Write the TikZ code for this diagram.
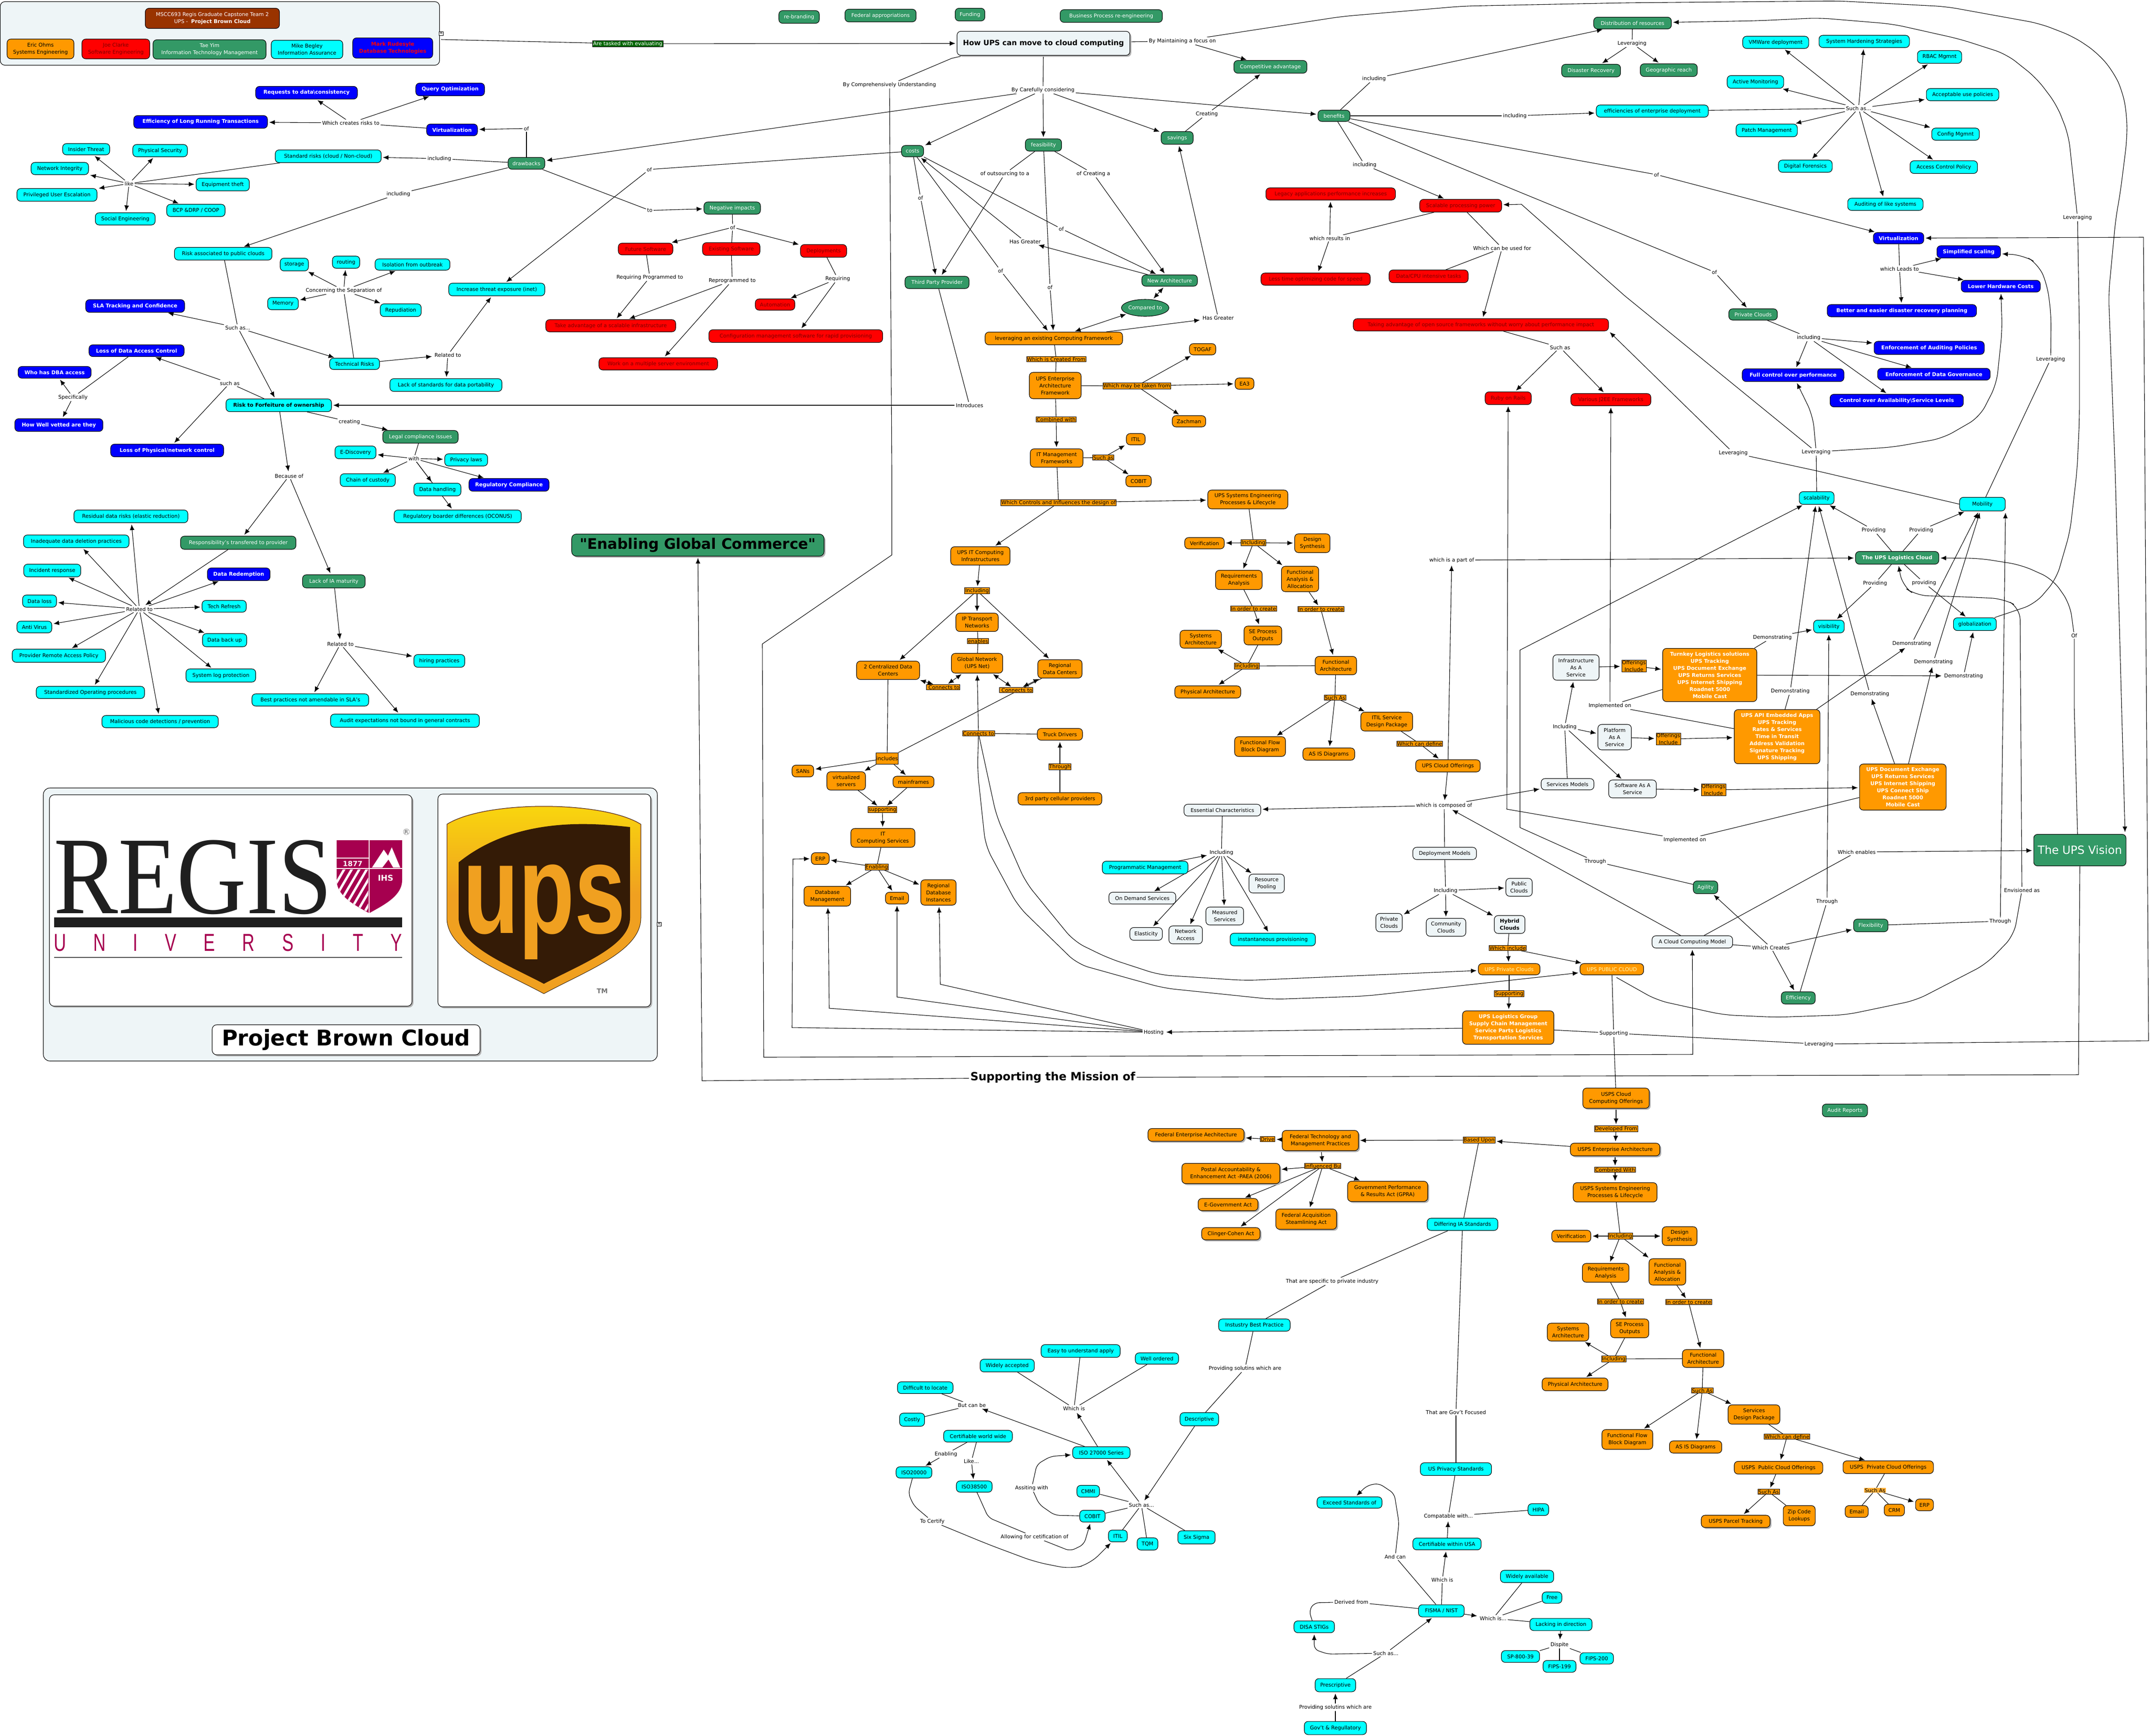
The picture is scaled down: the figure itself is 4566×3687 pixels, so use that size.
\documentclass[tikz,border=0pt]{standalone}
\usepackage{fontspec}
\setmainfont{DejaVu Sans}
\newfontfamily\rgf{Liberation Serif}[FakeStretch=0.87]
\newfontfamily\rgs{Liberation Sans}[FakeStretch=0.7]
\newfontfamily\rgu{Liberation Sans}[FakeStretch=0.72]
\newfontfamily\djp{DejaVu Sans}
\usetikzlibrary{arrows.meta,shadows,shapes.geometric}
\definecolor{cG}{HTML}{339966}
\definecolor{cC}{HTML}{00FFFF}
\definecolor{cB}{HTML}{0000FF}
\definecolor{cR}{HTML}{FF0000}
\definecolor{cO}{HTML}{FF9900}
\definecolor{cP}{HTML}{EEF5F7}
\definecolor{cT}{HTML}{800000}
\definecolor{cBr}{HTML}{993300}
\definecolor{cV}{HTML}{A6004F}
\definecolor{cUb}{HTML}{341B06}
\definecolor{cUg}{HTML}{F0A020}
\newcommand\fs{\fontsize{11}{15}\selectfont}
\tikzset{
 base/.style={draw=black,line width=1.1pt,rounded corners=8pt,align=center,inner sep=1pt,font=\fs},
 sG/.style={base,fill=cG,text=white},
 sC/.style={base,fill=cC,text=black},
 sB/.style={base,fill=cB,text=white,font=\fs\bfseries},
 sR/.style={base,fill=cR,text=cT},
 sO/.style={base,fill=cO,text=black},
 sW/.style={base,fill=cP,text=black},
 sY/.style={base,fill=cO,text=white,font=\fs\bfseries},
 sL/.style={base,fill=cO,text=yellow!30},
 bb/.style={font=\fs\bfseries},
 shd/.style={drop shadow={shadow xshift=3pt,shadow yshift=-3pt,fill=black!30,opacity=1}},
 lb/.style={fill=white,inner sep=2.5pt,font=\fs,align=center},
 ob/.style={fill=cO,draw=black,line width=.8pt,inner sep=1pt,font=\fs,align=center,text=black},
 ln/.style={draw=black,line width=1.1pt},
 ar/.style={ln,-{Latex[length=12pt,width=10pt]},shorten >=3pt},
 db/.style={ln,{Latex[length=12pt,width=10pt]}-{Latex[length=12pt,width=10pt]},shorten >=3pt,shorten <=3pt},
 cv/.style={rounded corners=25pt},
 cw/.style={rounded corners=10pt},
}
\pgfdeclarelayer{bg}
\pgfsetlayers{bg,main}
\newcommand\nd[7]{\node[#1,minimum width=#5pt,minimum height=#6pt] (#2) at (#3,#4) {#7};}
\newcommand\lbn[4]{\node[lb] (#1) at (#2,#3) {#4};}
\newcommand\olb[4]{\node[ob] (#1) at (#2,#3) {#4};}
\newcommand\LK[2]{\draw[ln] (#1) -- (#2);}
\newcommand\AR[2]{\draw[ar] (#1) -- (#2);}
\newcommand\LKS[2]{\foreach \tg in {#2} {\draw[ln] (#1) -- (\tg);}}
\newcommand\ARS[2]{\foreach \tg in {#2} {\draw[ar] (#1) -- (\tg);}}
\begin{document}
\begin{tikzpicture}[x=1pt,y=-1pt]
\useasboundingbox (0,0) rectangle (4566,3687);
% ---- panels
\begin{pgfonlayer}{bg}
\fill[white] (0,0) rectangle (4566,3687);
\node[draw=black,line width=1.1pt,fill=cP,rounded corners=10pt,minimum width=933pt,minimum height=135pt,inner sep=0pt] (toppanel) at (467,71) {};
\node[draw=black,line width=1.1pt,fill=cP,rounded corners=14pt,minimum width=1304pt,minimum height=580pt,inner sep=0pt] (botpanel) at (744,1964) {};
\node[draw=black,line width=1.1pt,fill=white,rounded corners=10pt,minimum width=770pt,minimum height=449pt,inner sep=0pt,shd] (regisbox) at (490,1913) {};
\node[draw=black,line width=1.1pt,fill=white,rounded corners=10pt,minimum width=452pt,minimum height=452pt,inner sep=0pt,shd] (upsbox) at (1156,1913) {};
\end{pgfonlayer}
% ---- logos
\node[inner sep=0pt,anchor=base,font=\fontsize{235}{235}\selectfont\rgf,text=black!88] (regisword) at (410,1940) {REGIS};
\fill[cV] (715,1785) -- (854,1785) -- (854,1870) .. controls (854,1905) and (810,1925) .. (784,1940) .. controls (758,1925) and (715,1905) .. (715,1870) -- cycle;
\draw[white,line width=1.5pt] (784,1785) -- (784,1940) (715,1845) -- (854,1845) (715,1823) -- (784,1823);
\fill[white] (790,1843) -- (815,1805) -- (824,1818) -- (832,1800) -- (850,1843) -- (835,1843) -- (825,1826) -- (812,1843) -- cycle;
\begin{scope}
\clip (715,1847) -- (782,1847) -- (782,1938) .. controls (758,1925) and (715,1905) .. (715,1870) -- cycle;
\foreach \q in {0,16,...,112} {\draw[white,line width=5pt] (700+\q,1900) -- (735+\q,1840);\draw[white,line width=5pt] (665+\q,1960) -- (700+\q,1900);}
\end{scope}
\node[text=white,font=\fontsize{15}{15}\selectfont\bfseries,inner sep=0pt] (rg1877) at (749,1835) {1877};
\node[text=white,font=\fontsize{17}{17}\selectfont\bfseries,inner sep=0pt] (rgihs) at (819,1865) {IHS};
\fill[black!88] (115,1949) rectangle (854,1970);
\node[inner sep=0pt,anchor=base,text=cV,font=\fontsize{52}{52}\selectfont\rgs] (rguniv) at (484,2020) {\makebox[739pt]{U\hfill N\hfill I\hfill V\hfill E\hfill R\hfill S\hfill I\hfill T\hfill Y}};
\draw[black!70,line width=2pt] (115,2034) -- (854,2034);
\node[draw=black!70,circle,inner sep=.5pt,font=\fontsize{11}{11}\selectfont,text=black!70] (rgreg) at (863,1767) {R};
\fill[cUg,draw=black!70!brown,line width=1pt] (949,1751) .. controls (1030,1700) and (1280,1700) .. (1361,1751) -- (1361,1950) .. controls (1361,2020) and (1250,2060) .. (1155,2111) .. controls (1060,2060) and (949,2020) .. (949,1950) -- cycle;
\shade[top color=yellow!60!cUg,bottom color=cUg] (951,1752) .. controls (1030,1702) and (1280,1702) .. (1359,1752) -- (1359,1900) -- (951,1900) -- cycle;
\fill[cUb] (1338,1757) .. controls (1270,1750) and (1100,1730) .. (974,1832) -- (974,1950) .. controls (974,2010) and (1080,2050) .. (1155,2090) .. controls (1230,2050) and (1338,2010) .. (1338,1950) -- cycle;
\node[inner sep=0pt,anchor=base,font=\fontsize{270}{270}\selectfont\rgu\bfseries,text=cUg] (upsword) at (1156,1982) {ups};
\node[inner sep=0pt,font=\fontsize{14}{14}\selectfont\bfseries,text=black!55] (upstm) at (1279,2105) {TM};
\node[draw=black,fill=white,inner sep=1pt,font=\fontsize{11}{11}\selectfont] (ic1) at (937,71) {«};
\node[draw=black,fill=white,inner sep=1pt,font=\fontsize{11}{11}\selectfont] (ic2) at (1400,1963) {«};
\node[base,fill=white,rounded corners=10pt,minimum width=569pt,minimum height=64pt,font=\fontsize{46}{54}\selectfont\bfseries,shd] (pbc) at (735,2209) {Project Brown Cloud};
\node[base,fill=cG,rounded corners=10pt,minimum width=536pt,minimum height=47pt,font=\fontsize{31}{40}\selectfont\djp\bfseries,shd] (egc) at (1482,1158) {"Enabling Global Commerce"};
\node[lb,font=\fontsize{24}{28}\selectfont\bfseries] (smo) at (2236,2289) {Supporting the Mission of};
% ---- team
\nd{base,fill=cBr,text=white}{ttl}{451}{39}{285}{43}{MSCC693 Regis Graduate Capstone Team 2\\UPS -\ \ \textbf{Project Brown Cloud}}
\nd{sO}{eric}{86}{104}{142}{42}{Eric Ohms\\Systems Engineering}
\nd{sR}{joe}{246}{104}{144}{42}{Joe Clarke\\Software Engineering}
\nd{sG}{tae}{445}{105}{240}{41}{Tae Yim\\Information Technology Management}
\nd{sC}{mike}{652}{105}{152}{39}{Mike Begley\\Information Assurance}
\nd{sB,text=red}{mark}{834}{102}{170}{43}{Mark Rudesyle\\Database Technologies}
% ---- top-left group
\nd{sB}{req}{651}{197}{216}{27}{Requests to data\textbackslash consistency}
\nd{sB}{qop}{956}{190}{146}{27}{Query Optimization}
\nd{sB}{eff}{426}{259}{284}{27}{Efficiency of Long Running Transactions}
\lbn{wcr}{745}{261}{Which creates risks to}
\nd{sB}{virta}{960}{276}{108}{25}{Virtualization}
\lbn{ofa}{1118}{273}{of}
\nd{sG}{draw}{1118}{347}{78}{25}{drawbacks}
\nd{sC}{stdr}{697}{332}{225}{27}{Standard risks (cloud / Non-cloud)}
\lbn{inca}{933}{337}{including}
\lbn{like}{274}{390}{like}
\nd{sC}{insd}{183}{317}{100}{24}{Insider Threat}
\nd{sC}{phys}{340}{320}{116}{26}{Physical Security}
\nd{sC}{neti}{127}{358}{122}{26}{Network Integrity}
\nd{sC}{equi}{473}{392}{113}{27}{Equipment theft}
\nd{sC}{priv}{121}{414}{170}{27}{Privileged User Escalation}
\nd{sC}{bcp}{416}{447}{124}{26}{BCP \&DRP / COOP}
\nd{sC}{soc}{266}{465}{127}{26}{Social Engineering}
\lbn{incb}{846}{412}{including}
\nd{sC}{rpub}{474}{539}{207}{27}{Risk associated to public clouds}
\nd{sC}{stor}{625}{562}{60}{27}{storage}
\nd{sC}{rout}{735}{557}{58}{26}{routing}
\nd{sC}{isol}{876}{562}{159}{24}{Isolation from outbreak}
\lbn{conc}{730}{617}{Concerning the Separation of}
\nd{sC}{memo}{601}{645}{65}{26}{Memory}
\nd{sC}{repu}{851}{659}{87}{27}{Repudiation}
\nd{sB}{sla}{287}{650}{210}{27}{SLA Tracking and Confidence}
\lbn{sucha}{505}{696}{Such as...}
\nd{sC}{incr}{1055}{615}{204}{27}{Increase threat exposure (inet)}
\nd{sC}{tech}{753}{773}{106}{24}{Technical Risks}
\lbn{rela}{951}{754}{Related to}
\nd{sC}{lack}{947}{818}{238}{27}{Lack of standards for data portability}
\nd{sB}{ldac}{290}{745}{202}{25}{Loss of Data Access Control}
\nd{sB}{dba}{116}{791}{155}{25}{Who has DBA access}
\lbn{suchb}{488}{814}{such as}
\lbn{spec}{155}{844}{Specifically}
\nd{sC,bb}{rfor}{592}{861}{224}{27}{Risk to Forfeiture of ownership}
\nd{sB}{vett}{125}{903}{187}{27}{How Well vetted are they}
\nd{sB}{lphy}{355}{957}{240}{27}{Loss of Physical/network control}
\lbn{crea}{742}{896}{creating}
\nd{sG}{lega}{893}{928}{160}{27}{Legal compliance issues}
\nd{sC}{edis}{755}{961}{87}{27}{E-Discovery}
\lbn{with}{879}{974}{with}
\nd{sC}{prla}{990}{977}{91}{26}{Privacy laws}
\lbn{beca}{614}{1011}{Because of}
\nd{sC}{chai}{781}{1020}{117}{27}{Chain of custody}
\nd{sC}{dhan}{929}{1040}{100}{27}{Data handling}
\nd{sB}{regc}{1081}{1030}{170}{27}{Regulatory Compliance}
\nd{sC}{regb}{972}{1097}{270}{27}{Regulatory boarder differences (OCONUS)}
\nd{sC}{resi}{278}{1097}{242}{27}{Residual data risks (elastic reduction)}
\nd{sC}{inad}{162}{1150}{224}{27}{Inadequate data deletion practices}
\nd{sG}{resp}{506}{1153}{245}{28}{Responsibility's transfered to provider}
\nd{sC}{incd}{111}{1212}{121}{27}{Incident response}
\nd{sB}{dred}{507}{1220}{133}{27}{Data Redemption}
\nd{sG}{liam}{709}{1235}{133}{28}{Lack of IA maturity}
\nd{sC}{dlos}{84}{1277}{72}{26}{Data loss}
\lbn{relb}{296}{1294}{Related to}
\nd{sC}{tref}{476}{1288}{94}{25}{Tech Refresh}
\nd{sC}{anti}{73}{1332}{74}{25}{Anti Virus}
\nd{sC}{dbak}{477}{1360}{94}{28}{Data back up}
\nd{sC}{prov}{125}{1393}{198}{28}{Provider Remote Access Policy}
\lbn{relc}{723}{1368}{Related to}
\nd{sC}{hire}{933}{1404}{108}{27}{hiring practices}
\nd{sC}{slog}{469}{1435}{148}{28}{System log protection}
\nd{sC}{stdo}{192}{1471}{230}{26}{Standardized Operating procedures}
\nd{sC}{best}{659}{1487}{248}{26}{Best practices not amendable in SLA's}
\nd{sC}{audi}{860}{1531}{316}{28}{Audit expectations not bound in general contracts}
\nd{sC}{mali}{340}{1533}{247}{26}{Malicious code detections / prevention}
% ---- top middle
\nd{sG}{rebr}{1697}{36}{86}{27}{re-branding}
\nd{sG}{feda}{1870}{33}{151}{27}{Federal appropriations}
\nd{sG}{fund}{2060}{31}{63}{27}{Funding}
\nd{sG}{bpre}{2360}{34}{217}{27}{Business Process re-engineering}
\node[base,fill=cP,minimum width=367pt,minimum height=51pt,font=\fontsize{15.5}{22}\selectfont\bfseries,shd] (how) at (2216,92) {How UPS can move to cloud computing};
\node[draw=black,line width=.8pt,fill=green!40!black,text=white,inner sep=1.5pt,font=\fs] (task) at (1333,93) {Are tasked with evaluating};
\lbn{bycom}{1889}{180}{By Comprehensively Understanding}
\lbn{bycar}{2215}{191}{By Carefully considering}
\nd{sG}{cost}{1938}{321}{47}{24}{costs}
\nd{sG}{feas}{2216}{308}{77}{26}{feasibility}
\lbn{ofb}{1379}{360}{of}
\lbn{tob}{1380}{447}{to}
\nd{sG}{nega}{1555}{442}{120}{26}{Negative impacts}
\lbn{ofc}{1556}{483}{of}
\nd{sR}{futs}{1371}{529}{116}{25}{Future Software}
\nd{sR}{exis}{1553}{529}{122}{27}{Existing Software}
\nd{sR}{depl}{1749}{533}{98}{27}{Deployments}
\lbn{oout}{2134}{369}{of outsourcing to a}
\lbn{ocre}{2322}{369}{of Creating a}
\lbn{ofd}{1955}{420}{of}
\lbn{ofe}{2254}{486}{of}
\lbn{hga}{2177}{513}{Has Greater}
\lbn{off}{2125}{575}{of}
\lbn{ofg}{2230}{610}{of}
\lbn{rqpr}{1380}{589}{Requiring Programmed to}
\lbn{repr}{1555}{596}{Reprogrammed to}
\lbn{rqng}{1779}{592}{Requiring}
\nd{sG}{tpp}{1990}{600}{136}{26}{Third Party Provider}
\nd{sR}{auto}{1646}{647}{84}{24}{Automation}
\nd{sR}{take}{1297}{692}{276}{26}{Take advantage of a scalable infrastructure}
\nd{sR}{conf}{1690}{714}{369}{27}{Configuration management software for rapid provisioning}
\nd{sR}{work}{1398}{773}{252}{26}{Work on a multiple server environment}
\nd{sO}{levf}{2238}{719}{292}{27}{leveraging an existing Computing Framework}
\olb{wicf}{2243}{763}{Which is Created From}
\nd{sO}{upsea}{2241}{819}{110}{56}{UPS Enterprise\\Architecture\\Framework}
\olb{comb}{2243}{891}{Combined with}
\nd{sO}{itmg}{2244}{973}{112}{39}{IT Management\\Frameworks}
\lbn{intr}{2059}{861}{Introduces}
\lbn{bym}{2511}{87}{By Maintaining a focus on}
\nd{sG}{comp}{2698}{142}{155}{27}{Competitive advantage}
\nd{sG}{bene}{2833}{246}{68}{24}{benefits}
\lbn{crtg}{2563}{242}{Creating}
\nd{sG}{savi}{2500}{293}{68}{27}{savings}
\lbn{incc}{2918}{167}{including}
\lbn{incd2}{3217}{246}{including}
\lbn{ince}{2898}{350}{including}
\nd{sG}{dist}{3467}{49}{165}{25}{Distribution of resources}
\nd{sG}{disa}{3379}{150}{125}{27}{Disaster Recovery}
\lbn{levd}{3466}{92}{Leveraging}
\nd{sG}{geog}{3544}{149}{121}{27}{Geographic reach}
\nd{sC}{effe}{3509}{236}{238}{26}{efficiencies of enterprise deployment}
\nd{sR}{lega2}{2826}{412}{275}{26}{Legacy applications performance increases}
\nd{sR}{scal}{3102}{437}{174}{27}{Scalable processing power}
\lbn{wri}{2824}{506}{which results in}
\nd{sR}{lest}{2794}{593}{232}{26}{Less time optimizing code for speed}
\nd{sR}{dcpu}{3034}{587}{168}{27}{Data/CPU intensive tasks}
\lbn{wcb}{3190}{527}{Which can be used for}
\nd{sG}{newa}{2484}{596}{118}{24}{New Architecture}
\node[draw=black,line width=1.1pt,fill=cG,text=white,ellipse,minimum width=86pt,minimum height=36pt,inner sep=0pt,font=\fs] (cmpd) at (2432,654) {Compared to};
\lbn{hgb}{2587}{675}{Has Greater}
\nd{sO}{toga}{2554}{742}{56}{24}{TOGAF}
\nd{sR}{tkad}{3145}{690}{542}{26}{Taking advantage of open source frameworks without worry about performance impact}
\olb{wmay}{2414}{820}{Which may be taken from}
\nd{sO}{ea3}{2643}{815}{40}{24}{EA3}
\nd{sO}{zach}{2525}{895}{71}{24}{Zachman}
\lbn{suchc}{3313}{738}{Such as}
\nd{sR}{ruby}{3203}{846}{98}{27}{Ruby on Rails}
\nd{sR}{j2ee}{3421}{849}{170}{26}{Various J2EE Frameworks}
\nd{sO}{itila}{2412}{933}{40}{24}{ITIL}
\olb{suchd}{2343}{972}{Such as}
\nd{sO}{cobia}{2418}{1022}{54}{24}{COBIT}
% ---- top right
\nd{sC}{vmw}{3771}{90}{140}{26}{VMWare deployment}
\nd{sC}{hard}{3959}{88}{192}{26}{System Hardening Strategies}
\nd{sC}{rbac}{4119}{121}{94}{27}{RBAC Mgmnt}
\nd{sC}{actm}{3728}{174}{120}{27}{Active Monitoring}
\lbn{suche}{3947}{230}{Such as...}
\nd{sC}{accu}{4168}{201}{154}{26}{Acceptable use policies}
\nd{sC}{patc}{3752}{277}{130}{27}{Patch Management}
\nd{sC}{cfgm}{4153}{285}{101}{26}{Config Mgmnt}
\nd{sC}{digf}{3834}{353}{114}{26}{Digital Forensics}
\nd{sC}{accp}{4128}{355}{143}{27}{Access Control Policy}
\nd{sC}{audl}{4004}{434}{160}{26}{Auditing of like systems}
\lbn{ofh}{3518}{371}{of}
\nd{sB}{virtb}{4032}{506}{107}{24}{Virtualization}
\nd{sB}{simp}{4181}{535}{135}{26}{Simplified scaling}
\lbn{wlt}{4034}{571}{which Leads to}
\nd{sB}{lowh}{4249}{608}{168}{25}{Lower Hardware Costs}
\lbn{ofi}{3641}{578}{of}
\nd{sB}{bett}{4039}{660}{317}{26}{Better and easier disaster recovery planning}
\nd{sG}{pric}{3723}{668}{103}{24}{Private Clouds}
\lbn{incf}{3841}{717}{including}
\nd{sB}{enfa}{4097}{739}{234}{28}{Enforcement of Auditing Policies}
\nd{sB}{enfd}{4107}{795}{239}{25}{Enforcement of Data Governance}
\nd{sB}{fullc}{3808}{797}{216}{27}{Full control over performance}
\nd{sB}{ctrl}{4028}{851}{283}{27}{Control over Availability\textbackslash Service Levels}
\lbn{leva}{4412}{462}{Leveraging}
\lbn{levb}{4355}{763}{Leveraging}
\lbn{levc}{3857}{960}{Leveraging}
\lbn{levf2}{3681}{962}{Leveraging}
% ---- centre
\olb{wctl}{2248}{1068}{Which Controls and Influences the design of}
\nd{sO}{upsse}{2650}{1061}{170}{40}{UPS Systems Engineering\\Processes \& Lifecycle}
\nd{sO}{upsit}{2082}{1181}{126}{39}{UPS IT Computing\\Infrastructures}
\olb{incg}{2075}{1255}{Including}
\nd{sO}{iptr}{2075}{1322}{90}{39}{IP Transport\\Networks}
\olb{enab}{2077}{1362}{enables}
\nd{sO}{gnet}{2075}{1409}{109}{42}{Global Network\\(UPS Net)}
\nd{sO}{cdc}{1886}{1424}{134}{39}{2 Centralized Data\\Centers}
\nd{sO}{rdc}{2251}{1421}{94}{39}{Regional\\Data Centers}
\olb{cona}{2003}{1460}{\ Connects to}
\olb{conb}{2158}{1466}{\ Connects to}
\olb{conc2}{2078}{1558}{Connects to}
\nd{sO}{truc}{2251}{1560}{96}{25}{Truck Drivers}
\olb{thra}{2251}{1629}{Through}
\nd{sO}{thrd}{2251}{1697}{178}{26}{3rd party cellular providers}
\node[ob,minimum height=24pt] (incl) at (1884,1611) {includes};
\nd{sO}{sans}{1705}{1638}{46}{25}{SANs}
\nd{sO}{vser}{1797}{1659}{82}{39}{virtualized\\servers}
\nd{sO}{main}{1940}{1661}{87}{24}{mainframes}
\olb{supp}{1874}{1720}{supporting}
\nd{sO}{itcs}{1875}{1780}{136}{40}{IT\\Computing Services}
\olb{enbl}{1862}{1842}{Enabling}
\nd{sO}{erpa}{1742}{1824}{38}{25}{ERP}
\nd{sO}{dbm}{1757}{1904}{99}{42}{Database\\Management}
\nd{sO}{emaa}{1905}{1908}{49}{25}{Email}
\nd{sO}{rdbi}{1993}{1896}{75}{54}{Regional\\Database\\Instances}
\olb{inch}{2662}{1153}{Including}
\nd{sO}{vera}{2558}{1154}{84}{24}{Verification}
\nd{sO}{desa}{2787}{1154}{75}{40}{Design\\Synthesis}
\nd{sO}{reqa}{2631}{1232}{99}{41}{Requirements\\Analysis}
\nd{sO}{funa}{2761}{1230}{79}{54}{Functional\\Analysis \&\\Allocation}
\olb{iocl}{2662}{1293}{In order to create}
\olb{iocr}{2805}{1294}{In order to create}
\nd{sO}{sepa}{2682}{1350}{80}{40}{SE Process\\Outputs}
\nd{sO}{sysa}{2550}{1358}{88}{38}{Systems\\Architecture}
\olb{inci}{2648}{1415}{Including}
\nd{sO}{fara}{2837}{1414}{88}{39}{Functional\\Architecture}
\nd{sO}{phya}{2565}{1470}{140}{26}{Physical Architecture}
\olb{suas}{2835}{1482}{Such As}
\nd{sO}{itsd}{2945}{1533}{110}{40}{ITIL Service\\Design Package}
\nd{sO}{ffbd}{2676}{1586}{108}{42}{Functional Flow\\Block Diagram}
\nd{sO}{asis}{2822}{1602}{110}{26}{AS IS Diagrams}
\olb{wcd}{3015}{1580}{Which can define}
\nd{sO}{ucof}{3075}{1627}{137}{26}{UPS Cloud Offerings}
\lbn{wpo}{3083}{1190}{which is a part of}
\lbn{wco}{3067}{1711}{which is composed of}
\nd{sW}{esse}{2596}{1721}{163}{25}{Essential Characteristics}
\nd{sW}{serv}{3329}{1666}{112}{24}{Services Models}
\nd{sW}{iaas}{3347}{1418}{98}{54}{Infrastructure\\As A\\Service}
\olb{ofra}{3470}{1415}{Offerings\\Include}
\lbn{incj}{3323}{1544}{Including}
\lbn{impa}{3419}{1499}{Implemented on}
\nd{sW}{paas}{3429}{1566}{71}{54}{Platform\\As A\\Service}
\nd{sW}{saas}{3467}{1676}{101}{38}{Software As A\\Service}
\nd{sW}{depm}{3068}{1813}{135}{26}{Deployment Models}
\lbn{inck}{2594}{1811}{Including}
\nd{sC}{prog}{2432}{1843}{182}{27}{Programmatic Management}
\nd{sW}{rpoo}{2690}{1877}{75}{40}{Resource\\Pooling}
\nd{sW}{onde}{2426}{1908}{142}{25}{On Demand Services}
\nd{sW}{meas}{2601}{1946}{80}{38}{Measured\\Services}
\nd{sW}{elas}{2434}{1984}{69}{27}{Elasticity}
\nd{sW}{neta}{2518}{1986}{71}{38}{Network\\Access}
\nd{sC}{inst}{2703}{1996}{181}{27}{instantaneous provisioning}
\lbn{incm}{3070}{1892}{Including}
\nd{sW}{pubc}{3226}{1885}{56}{38}{Public\\Clouds}
\nd{sW}{prvc}{2950}{1960}{56}{39}{Private\\Clouds}
\nd{sW}{comc}{3071}{1970}{84}{38}{Community\\Clouds}
\nd{sW,bb}{hybc}{3206}{1964}{65}{38}{Hybrid\\Clouds}
\olb{winc}{3202}{2014}{Which include}
\nd{sL}{upvc}{3205}{2059}{131}{24}{UPS Private Clouds}
\nd{sL}{upbc}{3423}{2059}{135}{24}{UPS PUBLIC CLOUD}
% ---- right middle
\nd{sC}{scab}{3858}{1058}{74}{27}{scalability}
\nd{sC}{mobi}{4210}{1071}{97}{29}{Mobility}
\lbn{pra}{3979}{1126}{Providing}
\lbn{prb}{4080}{1126}{Providing}
\nd{sG,bb}{ulog}{4029}{1185}{177}{27}{The UPS Logistics Cloud}
\lbn{prc}{3982}{1239}{Providing}
\lbn{prd}{4086}{1238}{providing}
\nd{sC}{visi}{3884}{1331}{65}{27}{visibility}
\nd{sC}{glob}{4194}{1326}{91}{27}{globalization}
\lbn{ofv}{4405}{1350}{Of}
\lbn{dma}{3764}{1354}{Demonstrating}
\lbn{dmb}{4060}{1367}{Demonstrating}
\lbn{dmc}{4106}{1406}{Demonstrating}
\lbn{dmd}{4170}{1436}{Demonstrating}
\lbn{dme}{3802}{1468}{Demonstrating}
\lbn{dmf}{3971}{1474}{Demonstrating}
\nd{sY}{turn}{3631}{1434}{200}{113}{Turnkey Logistics solutions\\UPS Tracking\\UPS Document Exchange\\UPS Returns Services\\UPS Internet Shipping\\Roadnet 5000\\Mobile Cast}
\nd{sY}{uapi}{3774}{1565}{182}{115}{UPS API Embedded Apps\\UPS Tracking\\Rates \& Services\\Time in Transit\\Address Validation\\Signature Tracking\\UPS Shipping}
\nd{sY}{udoc}{4041}{1672}{184}{98}{UPS Document Exchange\\UPS Returns Services\\UPS Internet Shipping\\UPS Connect Ship\\Roadnet 5000\\Mobile Cast}
\olb{ofrb}{3543}{1570}{Offerings\\Include}
\olb{ofrc}{3639}{1678}{Offerings\\Include}
\lbn{impb}{3578}{1784}{Implemented on}
\lbn{wen}{3943}{1810}{Which enables}
\node[base,fill=cG,text=white,rounded corners=8pt,minimum width=196pt,minimum height=67pt,font=\fontsize{24}{28}\selectfont] (vis) at (4417,1806) {The UPS Vision};
\nd{sG}{agil}{3622}{1885}{52}{27}{Agility}
\lbn{thrb}{3880}{1915}{Through}
\lbn{envi}{4294}{1891}{Envisioned as}
\nd{sG}{flex}{3973}{1966}{73}{27}{Flexibility}
\lbn{thrc}{4248}{1957}{Through}
\nd{sW}{ccm}{3594}{2001}{171}{26}{A Cloud Computing Model}
\lbn{wcre}{3761}{2013}{Which Creates}
\nd{sG}{effi}{3819}{2120}{72}{26}{Efficiency}
\lbn{thrd2}{3388}{1830}{Through}
\lbn{supa}{3427}{2195}{Supporting}
% ---- lower
\olb{supb}{3205}{2111}{Supporting}
\nd{sY}{ulgr}{3203}{2183}{194}{71}{UPS Logistics Group\\Supply Chain Management\\Service Parts Logistics\\Transportation Services}
\lbn{levg}{3863}{2218}{Leveraging}
\lbn{host}{2450}{2193}{Hosting}
\nd{sO,shd}{uclo}{3432}{2333}{141}{43}{USPS Cloud\\Computing Offerings}
\nd{sG}{audr}{3918}{2359}{96}{27}{Audit Reports}
\olb{devf}{3432}{2398}{Developed From}
\olb{basu}{3141}{2422}{Based Upon}
\nd{sO,shd}{usea}{3430}{2442}{190}{27}{USPS Enterprise Architecture}
\olb{cowi}{3430}{2485}{Combined With}
\nd{sO}{usse}{3430}{2533}{178}{41}{USPS Systems Engineering\\Processes \& Lifecycle}
\nd{sC}{difi}{3106}{2601}{150}{26}{Differing IA Standards}
\olb{incn}{3441}{2626}{Including}
\nd{sO}{verb}{3337}{2626}{83}{25}{Verification}
\nd{sO}{desb}{3567}{2626}{74}{40}{Design\\Synthesis}
\nd{sO}{reqb}{3410}{2704}{99}{40}{Requirements\\Analysis}
\nd{sO}{funb}{3541}{2702}{78}{56}{Functional\\Analysis \&\\Allocation}
\olb{iocm}{3441}{2765}{In order to create}
\olb{iocn}{3586}{2766}{In order to create}
\nd{sO}{sepb}{3461}{2822}{81}{40}{SE Process\\Outputs}
\nd{sO}{sysb}{3330}{2830}{88}{38}{Systems\\Architecture}
\olb{inco}{3427}{2887}{Including}
\nd{sO}{farb}{3617}{2886}{88}{38}{Functional\\Architecture}
\nd{sO}{phyb}{3345}{2941}{140}{27}{Physical Architecture}
\olb{suat}{3615}{2954}{Such As}
\nd{sO}{sdpk}{3725}{3005}{110}{41}{Services\\Design Package}
\nd{sO}{ffbe}{3456}{3058}{108}{42}{Functional Flow\\Block Diagram}
\nd{sO}{asit}{3601}{3074}{111}{26}{AS IS Diagrams}
\olb{wce}{3795}{3052}{Which can define}
\nd{sO}{upuo}{3777}{3118}{188}{27}{USPS\ \ Public Cloud Offerings}
\nd{sO}{upro}{4010}{3117}{192}{27}{USPS\ \ Private Cloud Offerings}
\olb{suau}{3756}{3169}{Such As}
\node[fill=cO!80,inner sep=1pt,font=\fs] (suav) at (3982,3166) {Such As};
\nd{sO,shd}{parc}{3686}{3232}{146}{26}{USPS Parcel Tracking}
\nd{sO}{zipc}{3821}{3220}{68}{43}{Zip Code\\Lookups}
\nd{sO}{emab}{3943}{3211}{49}{25}{Email}
\nd{sO}{crmb}{4023}{3208}{43}{25}{CRM}
\nd{sO}{erpb}{4087}{3197}{38}{25}{ERP}
\nd{sC}{hipa}{3267}{3207}{44}{25}{HIPA}
\nd{sC}{wava}{3243}{3349}{113}{26}{Widely available}
\nd{sC}{free}{3296}{3394}{42}{24}{Free}
\nd{sC}{lacd}{3315}{3451}{132}{26}{Lacking in direction}
\lbn{wiis}{3171}{3438}{Which is...}
\lbn{disp}{3312}{3494}{Dispite}
\nd{sC}{sp80}{3229}{3519}{81}{25}{SP-800-39}
\nd{sC}{fi19}{3312}{3540}{70}{25}{FIPS-199}
\nd{sC}{fi20}{3391}{3523}{71}{24}{FIPS-200}
\nd{sC}{indu}{2664}{2815}{152}{26}{Instustry Best Practice}
\lbn{tspi}{2829}{2722}{That are specific to private industry}
\lbn{psa}{2644}{2907}{Providing solutins which are}
\nd{sC}{easy}{2295}{2870}{168}{27}{Easy to understand apply}
\nd{sC}{well}{2457}{2886}{92}{24}{Well ordered}
\nd{sC}{wacc}{2139}{2901}{115}{27}{Widely accepted}
\nd{sC}{diff}{1965}{2948}{118}{25}{Difficult to locate}
\lbn{bcb}{2064}{2985}{But can be}
\lbn{wiia}{2281}{2992}{Which is}
\nd{sC}{cost2}{1937}{3016}{53}{28}{Costly}
\nd{sC}{desc}{2547}{3015}{82}{28}{Descriptive}
\nd{sC}{cert}{2077}{3051}{146}{25}{Certifiable world wide}
\lbn{enbg}{2009}{3089}{Enabling}
\lbn{lik2}{2063}{3104}{Like...}
\nd{sC}{iso27}{2339}{3086}{122}{25}{ISO 27000 Series}
\nd{sC}{iso20}{1941}{3128}{76}{24}{ISO20000}
\nd{sC}{iso38}{2069}{3158}{76}{24}{ISO38500}
\lbn{assi}{2191}{3161}{Assiting with}
\nd{sC}{cmmi}{2311}{3168}{48}{25}{CMMI}
\lbn{suchf}{2424}{3197}{Such as...}
\nd{sC}{cobb}{2320}{3221}{54}{25}{COBIT}
\lbn{toce}{1980}{3232}{To Certify}
\lbn{allo}{2197}{3265}{Allowing for cetification of}
\nd{sC}{itlb}{2374}{3263}{40}{25}{ITIL}
\nd{sC}{tqm}{2437}{3280}{44}{26}{TQM}
\nd{sC}{sixs}{2541}{3266}{79}{28}{Six Sigma}
\lbn{tgov}{3092}{3000}{That are Gov't Focused}
\nd{sC}{uspr}{3092}{3121}{151}{27}{US Privacy Standards}
\nd{sC}{exce}{2866}{3192}{138}{24}{Exceed Standards of}
\lbn{cpat}{3076}{3221}{Compatable with...}
\nd{sC}{cusa}{3073}{3280}{145}{25}{Certifiable within USA}
\lbn{ancn}{2963}{3307}{And can}
\lbn{wiib}{3063}{3356}{Which is}
\lbn{derv}{2870}{3403}{Derived from}
\nd{sC}{fism}{3061}{3422}{97}{26}{FISMA / NIST}
\nd{sC}{stig}{2791}{3456}{86}{25}{DISA STIGs}
\lbn{suchg}{2943}{3512}{Such as...}
\nd{sC}{pres}{2836}{3580}{86}{28}{Prescriptive}
\lbn{psb}{2836}{3627}{Providing solutins which are}
\nd{sC}{govr}{2836}{3671}{132}{28}{Gov't \& Regullatory}
\nd{sO,shd}{fdea}{2540}{2411}{204}{27}{Federal Enterprise Aechitecture}
\olb{driv}{2692}{2420}{Drive}
\nd{sO,shd}{fdte}{2804}{2423}{162}{43}{Federal Technology and\\Management Practices}
\olb{infl}{2809}{2477}{Influenced Bu}
\nd{sO,shd}{post}{2614}{2493}{208}{43}{Postal Accountability \&\\Enhancement Act -PAEA (2006)}
\nd{sO,shd}{gprf}{2947}{2531}{170}{43}{Government Performance\\\& Results Act (GPRA)}
\nd{sO,shd}{egov}{2608}{2559}{127}{26}{E-Government Act}
\nd{sO,shd}{facq}{2774}{2590}{129}{43}{Federal Acquisition\\Steamlining Act}
\nd{sO,shd}{clin}{2614}{2621}{124}{26}{Clinger-Cohen Act}
% ---- connectors
\begin{pgfonlayer}{bg}
\draw[ln] (toppanel.east) ++(3,13) -- (task);
\AR{task}{how}
\LK{how}{bym}\AR{bym}{comp}
\draw[ar,cv] (bym) -- (2850,35) -- (3107,13) -- (3450,6) -- (3905,2) -- (4133,14) -- (4332,50) -- (4404,78) -- (4454,112) -- (4488,152) -- (4508,195) -- (4517,246) -- (4517,297) -- (4503,408) -- (4493,466) -- (4478,625) -- (4492,1000) -- (4513,1771);
\LK{how}{bycar}\ARS{bycar}{draw,cost,feas,savi,bene}
\draw[ln] (how.south west) ++(15,0) -- (2021,124) -- (bycom);
\draw[ar] (bycom) -- (1894,1000) -- (1894,1179) -- (1619,1368) -- (1621,2000) -- (1622,2246) -- (3595,2240) -- (ccm);
\LK{draw}{ofa}\AR{ofa}{virta}\LK{virta}{wcr}\ARS{wcr}{eff,req,qop}
\LK{draw}{inca}\AR{inca}{stdr}\LK{stdr}{like}\ARS{like}{insd,phys,neti,equi,priv,bcp,soc}
\LK{draw}{incb}\AR{incb}{rpub}\LK{draw}{tob}\AR{tob}{nega}
\LK{cost}{ofb}\AR{ofb}{incr}
\LK{rpub}{sucha}\ARS{sucha}{sla,tech,rfor}
\LK{tech}{conc}\ARS{conc}{stor,rout,isol,memo,repu}
\AR{tech}{rela}\ARS{rela}{incr,lack}
\LK{rfor}{suchb}\ARS{suchb}{ldac,lphy}\LK{ldac}{spec}\ARS{spec}{dba,vett}
\LK{tpp}{intr}\AR{intr}{rfor}
\LK{rfor}{crea}\AR{crea}{lega}\LK{lega}{with}\ARS{with}{edis,prla,chai,dhan,regc,regb}
\AR{rfor}{beca}\ARS{beca}{resp,liam}\AR{resp}{relb}
\ARS{relb}{resi,inad,incd,dlos,anti,prov,stdo,mali,slog,dbak,tref,dred}
\AR{liam}{relc}\ARS{relc}{hire,best,audi}
\LK{nega}{ofc}\ARS{ofc}{futs,depl}\LK{ofc}{exis}
\LK{futs}{rqpr}\AR{rqpr}{take}\LK{exis}{repr}\ARS{repr}{take,work}\LK{depl}{rqng}\ARS{rqng}{auto,conf}
\LK{cost}{ofd}\AR{ofd}{tpp}\LK{cost}{off}\AR{off}{levf}\LK{cost}{ofe}\AR{ofe}{newa}
\AR{newa}{hga}\AR{hga}{cost}
\LK{feas}{oout}\AR{oout}{tpp}\LK{feas}{ofg}\AR{ofg}{levf}\LK{feas}{ocre}\AR{ocre}{newa}
\draw[db] (newa) -- (cmpd);\draw[db] (cmpd) -- (levf);
\AR{levf}{hgb}\AR{hgb}{savi}\LK{savi}{crtg}\AR{crtg}{comp}
\LK{levf}{wicf}\LK{wicf}{upsea}\LK{upsea}{wmay}\ARS{wmay}{toga,ea3,zach}
\LK{upsea}{comb}\AR{comb}{itmg}\LK{itmg}{suchd}\ARS{suchd}{itila,cobia}
\LK{itmg}{wctl}\ARS{wctl}{upsse,upsit}
\AR{upsit}{incg}\ARS{incg}{iptr,cdc,rdc}\LK{iptr}{enab}\LK{enab}{gnet}
\draw[db] (cdc) -- (cona);\draw[db] (cona) -- (gnet);\draw[db] (gnet) -- (conb);\draw[db] (conb) -- (rdc);
\LK{truc}{conc2}\AR{conc2}{gnet}\AR{thra}{truc}\LK{thrd}{thra}
\LK{cdc}{incl}\LK{rdc}{incl}\ARS{incl}{sans,vser,main}\ARS{vser}{supp}\AR{main}{supp}\AR{supp}{itcs}
\LK{itcs}{enbl}\ARS{enbl}{erpa,dbm,emaa,rdbi}
\draw[ar,cv] (conc2) -- (2116,1733) -- (2178,1874) -- (2281,2000) -- (2355,2036) -- (2462,2071) -- (2645,2083) -- (2900,2072) -- (upvc);
\draw[ar,cv] (conc2) -- (2076,1638) -- (2093,1797) -- (2162,1925) -- (2288,2048) -- (2471,2099) -- (2703,2123) -- (2900,2116) -- (upbc);
\LK{upsse}{inch}\ARS{inch}{vera,desa,reqa,funa}\LK{reqa}{iocl}\AR{iocl}{sepa}\AR{funa}{iocr}\AR{iocr}{fara}
\LK{sepa}{inci}\LK{fara}{inci}\ARS{inci}{sysa,phya}\LK{fara}{suas}\ARS{suas}{ffbd,asis,itsd}
\LK{itsd}{wcd}\AR{wcd}{ucof}\AR{ucof}{wpo}\AR{wpo}{ulog}\AR{ucof}{wco}
\ARS{wco}{esse,serv}\LK{wco}{depm}\AR{ccm}{wco}
\LK{esse}{inck}\ARS{inck}{onde,elas,neta,meas,inst,rpoo}\AR{prog}{inck}
\LK{serv}{incj}\ARS{incj}{iaas,paas,saas}
\AR{iaas}{ofra}\AR{ofra}{turn}\AR{paas}{ofrb}\AR{ofrb}{uapi}\AR{saas}{ofrc}\AR{ofrc}{udoc}
\LK{turn}{impa}\LK{uapi}{impa}\AR{impa}{j2ee}
\LK{udoc}{impb}\draw[ar] (impb) -- (3200,1719) -- (ruby);
\LK{agil}{thrd2}\draw[ar] (thrd2) -- (3228,1758) -- (3228,1381) -- (scab);
\LK{effi}{thrb}\AR{thrb}{visi}\LK{flex}{thrc}\AR{thrc}{mobi.south east}
\LK{ccm}{wcre}\ARS{wcre}{agil,flex,effi}\LK{ccm}{wen}\AR{wen}{vis}
\draw[ln] (vis.north) ++(-5,0) -- (4405,1500) -- (ofv);
\draw[ar,cv] (ofv) -- (4396,1283) -- (4359,1230) -- (4292,1200) -- (4203,1186) -- (ulog);
\draw[ln,cv] (upbc.south) ++(10,5) -- (3519,2125) -- (3660,2156) -- (3772,2161) -- (3920,2156) -- (4069,2125) -- (4218,2048) -- (4277,1987) -- (envi);
\draw[ar,cv] (envi) -- (4290,1291) -- (4255,1272) -- (4173,1268) -- (4069,1265) -- (4040,1245) -- (ulog);
\LK{upbc}{supa}\LK{supa}{uclo}\LK{upvc}{supb}\AR{supb}{ulgr}
\LK{hybc}{winc}\ARS{winc}{upvc,upbc}\LK{depm}{incm}\ARS{incm}{pubc,prvc,comc,hybc}
\LK{ulog}{pra}\AR{pra}{scab}\LK{ulog}{prb}\AR{prb}{mobi}\LK{ulog}{prc}\AR{prc}{visi}\LK{ulog}{prd}\AR{prd}{glob}
\LK{turn}{dma}\AR{dma}{visi}\LK{uapi}{dme}\AR{dme}{scab}
\AR{uapi}{dmb}\AR{dmb}{mobi}\AR{udoc}{dmf}\AR{dmf}{scab}\AR{udoc}{dmc}\AR{dmc}{mobi}
\AR{turn}{dmd}\AR{dmd}{glob}
% benefits
\LK{bene}{incc}\AR{incc}{dist}\LK{bene}{incd2}\AR{incd2}{effe}\LK{bene}{ince}\AR{ince}{scal}
\LK{bene}{ofh}\AR{ofh}{virtb}\LK{bene}{ofi}\AR{ofi}{pric}
\LK{dist}{levd}\ARS{levd}{disa,geog}
\LK{effe}{suche}\ARS{suche}{vmw,hard,rbac,actm,accu,patc,cfgm,digf,accp,audl}
\LK{scal}{wri}\ARS{wri}{lega2,lest}\LK{scal}{wcb}\LK{wcb}{dcpu}\AR{wcb}{tkad}
\LK{tkad}{suchc}\ARS{suchc}{ruby,j2ee}
\LK{virtb}{wlt}\ARS{wlt}{simp,lowh,bett}
\LK{pric}{incf}\ARS{incf}{enfa,enfd,fullc,ctrl}
\draw[ln,cv] (glob) -- (4322,1283) -- (4367,1230) -- (4396,1130) -- (4411,1000) -- (4416,893) -- (4416,701) -- (leva);
\draw[ar,cv] (leva) -- (4393,287) -- (4368,223) -- (4325,166) -- (4261,115) -- (4162,83) -- (4019,51) -- (3863,38) -- (3735,44) -- (dist);
\LK{mobi}{levb}
\draw[ar,cv] (levb) -- (4356,670) -- (4348,606) -- (4329,561) -- (4297,542) -- (simp);
\draw[ln] (scab.north) -- (levc);
\draw[ar,cv] (levc) -- (3850,883) -- (fullc);
\draw[ar,cv] (levc) -- (4019,950) -- (4126,931) -- (4204,886) -- (4240,816) -- (4252,701) -- (lowh);
\draw[ar] (levc) -- (3450,628) -- (3231,434) -- (scal);
\draw[ln] (mobi.west) -- (3857,1000) -- (levf2);
\AR{levf2}{tkad.south east}
% lower
\AR{ulgr}{host}
\draw[ar] (host) -- (1997,2091) -- (1995,1950) -- (rdbi);
\draw[ar] (host) -- (1905,2118) -- (1905,1950) -- (emaa);
\draw[ar] (host) -- (1761,2142) -- (1759,1950) -- (dbm);
\draw[ar] (host) -- (1682,2183) -- (1684,1825) -- (erpa);
\LK{ulgr}{levg}\draw[ar] (levg) -- (4563,2211) -- (4552,504) -- (virtb);
\draw[ln] (vis.south) -- (4414,2283) -- (smo);
\draw[ar] (smo) -- (1491,2296) -- (egc);
\AR{uclo}{devf}\AR{devf}{usea}\AR{usea}{basu}\AR{usea}{cowi}\AR{cowi}{usse}
\AR{basu}{fdte}\LK{basu}{difi}\AR{fdte}{driv}\AR{driv}{fdea}\AR{fdte}{infl}\ARS{infl}{post,egov,clin,facq,gprf}
\LK{difi}{tspi}\LK{tspi}{indu}\LK{difi}{tgov}\LK{tgov}{uspr}
\LK{indu}{psa}\LK{psa}{desc}\AR{desc}{suchf}
\LKS{suchf}{cmmi,cobb,itlb,tqm,sixs}\AR{suchf}{iso27}
\AR{iso27}{wiia}\LKS{wiia}{wacc,easy,well}\AR{iso27}{bcb}\LKS{bcb}{diff,cost2}
\draw[ln,cw] (cobb) -- (2240,3219) -- (2207,3196) -- (assi);
\draw[ar,cw] (assi) -- (2202,3111) -- (2231,3094) -- (iso27);
\LK{cert}{enbg}\AR{enbg}{iso20}\LK{cert}{lik2}\AR{lik2}{iso38}
\draw[ln,cw] (iso20) -- (1929,3173) -- (1941,3199) -- (toce);
\draw[ar,cv] (toce) -- (2099,3281) -- (2198,3318) -- (2273,3333) -- (2314,3323) -- (itlb);
\draw[ln,cw] (iso38) -- (2076,3173) -- (2099,3224) -- (allo);
\draw[ar,cw] (allo) -- (2273,3295) -- (2302,3281) -- (cobb);
\LK{govr}{psb}\AR{psb}{pres}\LK{pres}{suchg}\AR{suchg}{fism}
\draw[ar,cw] (suchg) -- (2820,3514) -- (2791,3504) -- (stig);
\LK{fism}{derv}
\draw[ln,cw] (derv) -- (2791,3405) -- (2780,3422) -- (stig);
\LK{fism}{ancn}
\draw[ar,cw] (ancn) -- (2971,3235) -- (2961,3173) -- (2928,3151) -- (2903,3156) -- (exce);
\LK{fism}{wiib}\AR{wiib}{cusa}\AR{cusa}{cpat}\LK{cpat}{uspr}\LK{cpat}{hipa}
\AR{fism}{wiis}\LKS{wiis}{wava,free,lacd}\AR{lacd}{disp}\LKS{disp}{sp80,fi19,fi20}
\LK{usse}{incn}\ARS{incn}{verb,desb,reqb,funb}\LK{reqb}{iocm}\AR{iocm}{sepb}\AR{funb}{iocn}\AR{iocn}{farb}
\LK{sepb}{inco}\LK{farb}{inco}\ARS{inco}{sysb,phyb}\LK{farb}{suat}\ARS{suat}{ffbe,asit,sdpk}
\LK{sdpk}{wce}\ARS{wce}{upuo,upro}\AR{upuo}{suau}\AR{suau}{parc}\LK{suau}{zipc}
\LK{upro}{suav}\LKS{suav}{emab,crmb}\AR{suav}{erpb}
\end{pgfonlayer}
\end{tikzpicture}
\end{document}
